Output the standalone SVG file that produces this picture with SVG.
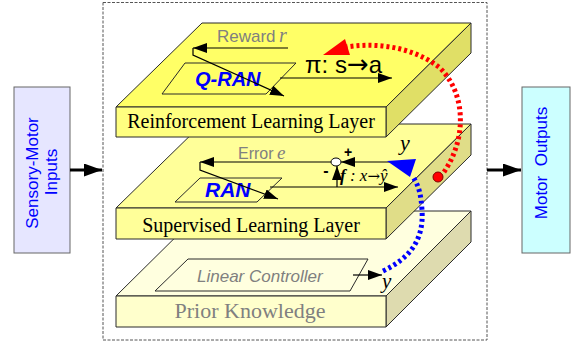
<svg xmlns="http://www.w3.org/2000/svg" width="575" height="347" viewBox="0 0 575 347">
<style>
.edge{stroke:#2a2a2a;stroke-width:1;stroke-linejoin:round}
.ln{fill:none;stroke:#000;stroke-width:1.2}
.sans{font-family:"Liberation Sans",Arial,sans-serif}
.serif{font-family:"Liberation Serif","Times New Roman",serif}
.gray{fill:#808080}
.blue{fill:#0000ff}
.lbl{font-family:"Liberation Serif","Times New Roman",serif;font-size:20px;fill:#000;text-anchor:middle}
</style>
<defs>
<marker id="ah" markerUnits="userSpaceOnUse" markerWidth="15" markerHeight="10" refX="14" refY="5" orient="auto">
<path d="M0,0 L14,5 L0,10 z" fill="#000"/>
</marker>
<marker id="ahB" markerUnits="userSpaceOnUse" markerWidth="19" markerHeight="13" refX="18" refY="6.5" orient="auto">
<path d="M0,0 L18,6.5 L0,13 z" fill="#000"/>
</marker>
</defs>

<rect x="103" y="2.5" width="384" height="337.5" fill="none" stroke="#555" stroke-width="1" stroke-dasharray="3 1.5"/>

<g id="inputs">
<rect x="14" y="87" width="56" height="166" fill="#e6e6ff" stroke="#666" stroke-width="1"/>
<text class="sans blue" font-size="17" text-anchor="middle" transform="translate(37.5,173) rotate(-90)">Sensory-Motor</text>
<text class="sans blue" font-size="17" text-anchor="middle" transform="translate(56.5,172) rotate(-90)">Inputs</text>
</g>

<g id="outputs">
<rect x="522" y="87" width="48" height="166" fill="#ccffff" stroke="#666" stroke-width="1"/>
<text class="sans blue" font-size="17" text-anchor="middle" transform="translate(547,163) rotate(-90)">Motor&#160; Outputs</text>
</g>

<g id="prior-knowledge">
<polygon class="edge" points="116,296 386,296 471,211 202,211" fill="#ffffdf"/>
<polygon class="edge" points="386,296 471,211 471,242 386,327" fill="#dedbaf"/>
<rect class="edge" x="116" y="296" width="270" height="31" fill="#ffffcc"/>
<polygon class="edge" points="188,259 368,259 350,291 155,291" fill="#ffffdf"/>
<text class="sans gray" font-size="17" font-style="italic" x="197" y="282">Linear Controller</text>
<text class="serif gray" font-size="22" x="250" y="318" text-anchor="middle">Prior Knowledge</text>
<text class="serif" font-size="21" font-style="italic" x="382" y="288">y</text>
</g>

<g id="supervised">
<polygon class="edge" points="116,208 386,208 471,124 202,124" fill="#ffff99"/>
<polygon class="edge" points="386,208 471,124 471,155 386,239" fill="#e0dd88"/>
<rect class="edge" x="116" y="208" width="270" height="31" fill="#ffff99"/>
<polygon class="edge" points="200,178 282,178 257,202 175,202" fill="#ffff99"/>
<text class="sans blue" font-size="21" font-weight="bold" font-style="italic" x="205" y="197">RAN</text>
<text class="sans gray" font-size="16" x="238" y="159">Error</text>
<text class="serif gray" font-size="19" font-style="italic" x="277" y="159">e</text>
<text class="serif" font-size="22" font-style="italic" x="400" y="150">y</text>
<ellipse cx="336" cy="162" rx="5" ry="4" fill="#fff" stroke="#000" stroke-width="1"/>
<text class="sans" font-size="14" font-weight="bold" x="348" y="157" text-anchor="middle">+</text>
<text class="sans" font-size="16" font-weight="bold" x="326" y="176" text-anchor="middle">-</text>
<text class="serif" font-size="17" font-style="italic" x="340" y="181"><tspan font-weight="bold">f</tspan> : x<tspan font-family="'DejaVu Serif',serif" font-style="normal" font-size="15">→</tspan>ŷ</text>
<text class="lbl" x="251" y="232">Supervised Learning Layer</text>
</g>

<g id="reinforcement">
<polygon class="edge" points="116,107 386,107 471,23 202,23" fill="#ffff66"/>
<polygon class="edge" points="386,107 471,23 471,53 386,137" fill="#e0df66"/>
<rect class="edge" x="116" y="107" width="270" height="30" fill="#ffff80"/>
<polygon class="edge" points="185,63 296,63 266,94 162,94" fill="#ffff66"/>
<text class="sans blue" font-size="20" font-weight="bold" font-style="italic" x="195" y="86">Q-RAN</text>
<text class="sans gray" font-size="17" x="217" y="42">Reward</text>
<text class="serif gray" font-size="20" font-style="italic" x="279" y="42">r</text>
<text class="sans" font-size="24" x="305" y="73">π: s<tspan font-family="'DejaVu Sans',sans-serif" font-size="26">→</tspan>a</text>
<text class="lbl" x="251" y="128">Reinforcement Learning Layer</text>
</g>

<g id="connectors">
<line x1="70" y1="170" x2="102" y2="170" stroke="#000" stroke-width="3" marker-end="url(#ahB)"/>
<line x1="487" y1="170" x2="521" y2="170" stroke="#000" stroke-width="3" marker-end="url(#ahB)"/>
<line class="ln" x1="288" y1="48" x2="193" y2="48" marker-end="url(#ah)"/>
<polyline class="ln" points="193,48 193,55 284,96" marker-end="url(#ah)"/>
<line class="ln" x1="280" y1="78" x2="392" y2="78" marker-end="url(#ah)"/>
<line class="ln" x1="331" y1="162" x2="200" y2="162" marker-end="url(#ah)"/>
<polyline class="ln" points="200,162 200,170 278,199" marker-end="url(#ah)"/>
<line class="ln" x1="270" y1="187" x2="398" y2="187" marker-end="url(#ah)"/>
<line class="ln" x1="337" y1="187" x2="337" y2="166" marker-end="url(#ah)"/>
<line class="ln" x1="390" y1="162" x2="341" y2="162" marker-end="url(#ah)"/>
<line class="ln" x1="353" y1="275" x2="382" y2="275" marker-end="url(#ah)"/>
<path d="M444,172 C466,140 467,95 440,68 C415,48 380,42 346,47" fill="none" stroke="#ff0000" stroke-width="5" stroke-dasharray="3 3"/>
<polygon points="323,55 345,39 350,55" fill="#ff0000"/>
<circle cx="438" cy="177" r="5" fill="#ff0000" stroke="#800000" stroke-width="1"/>
<path d="M383,271 C410,258 424,240 422,210 C421,195 419,186 413,177" fill="none" stroke="#0000ff" stroke-width="5" stroke-dasharray="3 3"/>
<polygon points="387,161 416,159 410,177" fill="#0000ff"/>
</g>
</svg>
